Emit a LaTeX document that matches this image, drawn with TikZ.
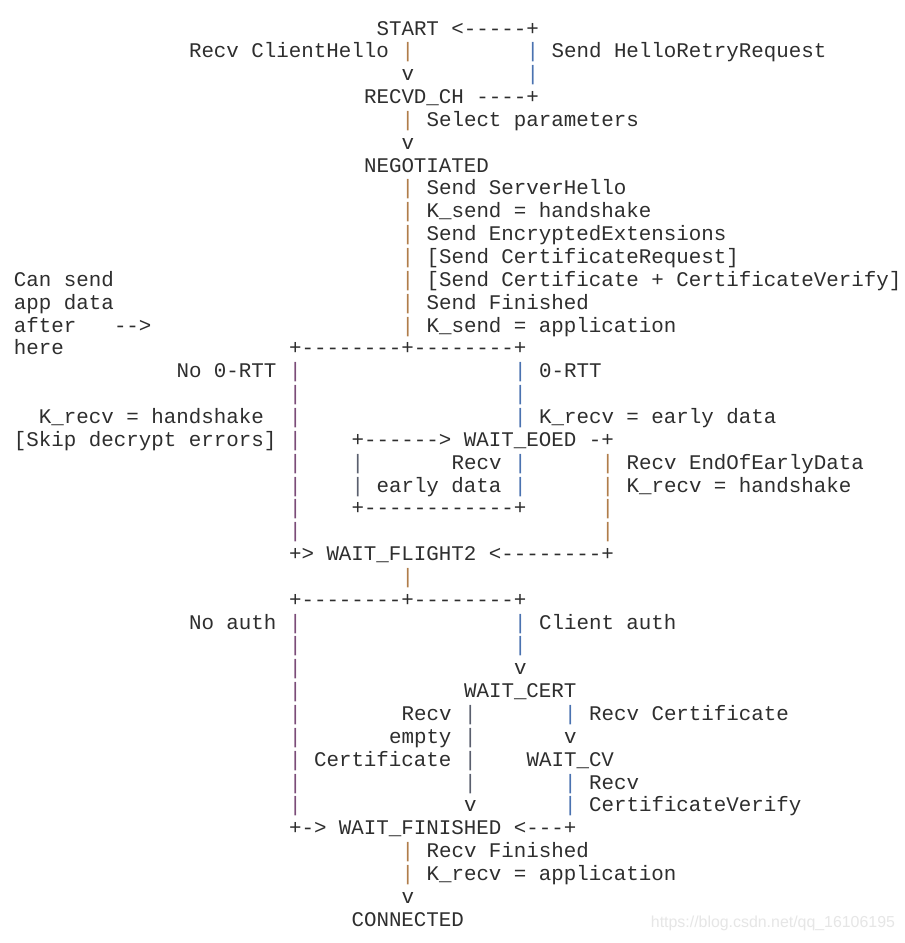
\documentclass[tikz,border=0pt]{standalone}
\usepackage{fontspec}
\usepackage{xcolor}
\setmonofont{Liberation Mono}
\setsansfont{Liberation Sans}

\definecolor{ink}{HTML}{2E2E2E}
\definecolor{barbrown}{HTML}{B07D4A}
\definecolor{barblue}{HTML}{4A72B0}
\definecolor{barpurple}{HTML}{7B4C78}
\definecolor{bargray}{HTML}{5A5F6E}
\definecolor{mark}{HTML}{E6E6E6}

\newcommand{\pipebr}{\textcolor{barbrown}{|}}
\newcommand{\pipebl}{\textcolor{barblue}{|}}
\newcommand{\pipepu}{\textcolor{barpurple}{|}}
\newcommand{\pipegr}{\textcolor{bargray}{|}}

\tikzset{
  txt/.style={anchor=base west,inner sep=0pt,outer sep=0pt,text=ink,
    font=\ttfamily\fontsize{20.83}{22.85}\selectfont}
}

\begin{document}
\frenchspacing
\begin{tikzpicture}[x=12.5pt,y=-22.85pt]
        \fill[white] (-0.12,-1.532) rectangle (72.2,39.737);
        \useasboundingbox (-0.12,-1.532) rectangle (72.2,39.737);
        % top: START / RECVD_CH / NEGOTIATED
        \node[txt] (start) at (30,0) {START <-----+};
        \node[txt] (recvclienthello) at (15,1) {Recv ClientHello \pipebr};
        \node[txt] (sendhrr) at (42,1) {\pipebl{} Send HelloRetryRequest};
        \node[txt] (v2) at (32,2) {v};
        \node[txt] (p2) at (42,2) {\pipebl};
        \node[txt] (recvdch) at (29,3) {RECVD\_CH ----+};
        \node[txt] (selectparams) at (32,4) {\pipebr{} Select parameters};
        \node[txt] (v5) at (32,5) {v};
        \node[txt] (negotiated) at (29,6) {NEGOTIATED};
        \node[txt] (sendsh) at (32,7) {\pipebr{} Send ServerHello};
        \node[txt] (ksendhs) at (32,8) {\pipebr{} K\_send = handshake};
        \node[txt] (sendee) at (32,9) {\pipebr{} Send EncryptedExtensions};
        \node[txt] (sendcr) at (32,10) {\pipebr{} [Send CertificateRequest]};
        \node[txt] (sendcert) at (32,11) {\pipebr{} [Send Certificate + CertificateVerify]};
        \node[txt] (sendfin) at (32,12) {\pipebr{} Send Finished};
        \node[txt] (ksendapp) at (32,13) {\pipebr{} K\_send = application};
        \node[txt] (cansend) at (1,11) {Can send};
        \node[txt] (appdata) at (1,12) {app data};
        \node[txt] (after) at (1,13) {after};
        \node[txt] (afterarrow) at (9,13) {-->};
        \node[txt] (here) at (1,14) {here};
        % 0-RTT split
        \node[txt] (split1) at (23,14) {+--------+--------+};
        \node[txt] (no0rtt) at (14,15) {No 0-RTT \pipepu};
        \node[txt] (zerortt) at (41,15) {\pipebl{} 0-RTT};
        \node[txt] (p16a) at (23,16) {\pipepu};
        \node[txt] (p16b) at (41,16) {\pipebl};
        \node[txt] (krecvhs) at (3,17) {K\_recv = handshake};
        \node[txt] (p17) at (23,17) {\pipepu};
        \node[txt] (krecved) at (41,17) {\pipebl{} K\_recv = early data};
        \node[txt] (skip) at (1,18) {[Skip decrypt errors]};
        \node[txt] (p18) at (23,18) {\pipepu};
        \node[txt] (waiteoed) at (28,18) {+------> WAIT\_EOED -+};
        \node[txt] (p19a) at (23,19) {\pipepu};
        \node[txt] (p19b) at (28,19) {\pipegr};
        \node[txt] (recvearly) at (36,19) {Recv \pipebl};
        \node[txt] (recveoed) at (48,19) {\pipebr{} Recv EndOfEarlyData};
        \node[txt] (p20) at (23,20) {\pipepu};
        \node[txt] (earlydata) at (28,20) {\pipegr{} early data \pipebl};
        \node[txt] (krecvhs2) at (48,20) {\pipebr{} K\_recv = handshake};
        \node[txt] (p21a) at (23,21) {\pipepu};
        \node[txt] (boxbottom) at (28,21) {+------------+};
        \node[txt] (p21b) at (48,21) {\pipebr};
        \node[txt] (p22a) at (23,22) {\pipepu};
        \node[txt] (p22b) at (48,22) {\pipebr};
        \node[txt] (waitflight2) at (23,23) {+> WAIT\_FLIGHT2 <--------+};
        \node[txt] (p24) at (32,24) {\pipebr};
        % auth split
        \node[txt] (split2) at (23,25) {+--------+--------+};
        \node[txt] (noauth) at (15,26) {No auth \pipepu};
        \node[txt] (clientauth) at (41,26) {\pipebl{} Client auth};
        \node[txt] (p27a) at (23,27) {\pipepu};
        \node[txt] (p27b) at (41,27) {\pipebl};
        \node[txt] (p28) at (23,28) {\pipepu};
        \node[txt] (v28) at (41,28) {v};
        \node[txt] (p29) at (23,29) {\pipepu};
        \node[txt] (waitcert) at (37,29) {WAIT\_CERT};
        \node[txt] (p30) at (23,30) {\pipepu};
        \node[txt] (recvempty) at (32,30) {Recv \pipegr};
        \node[txt] (recvcert) at (45,30) {\pipebl{} Recv Certificate};
        \node[txt] (p31) at (23,31) {\pipepu};
        \node[txt] (empty) at (31,31) {empty \pipegr};
        \node[txt] (v31) at (45,31) {v};
        \node[txt] (certificate) at (23,32) {\pipepu{} Certificate \pipegr};
        \node[txt] (waitcv) at (42,32) {WAIT\_CV};
        \node[txt] (p33a) at (23,33) {\pipepu};
        \node[txt] (p33b) at (37,33) {\pipegr};
        \node[txt] (recvcv) at (45,33) {\pipebl{} Recv};
        \node[txt] (p34) at (23,34) {\pipepu};
        \node[txt] (v34) at (37,34) {v};
        \node[txt] (certverify) at (45,34) {\pipebl{} CertificateVerify};
        \node[txt] (waitfinished) at (23,35) {+-> WAIT\_FINISHED <---+};
        % bottom: CONNECTED
        \node[txt] (recvfin) at (32,36) {\pipebr{} Recv Finished};
        \node[txt] (krecvapp) at (32,37) {\pipebr{} K\_recv = application};
        \node[txt] (v38) at (32,38) {v};
        \node[txt] (connected) at (28,39) {CONNECTED};
        \node[anchor=base west,inner sep=0pt,text=mark,font=\sffamily\fontsize{15.9}{18}\selectfont] (watermark) at (51.94,39.08) {https://blog.csdn.net/qq\_16106195};
    \end{tikzpicture}
\end{document}
